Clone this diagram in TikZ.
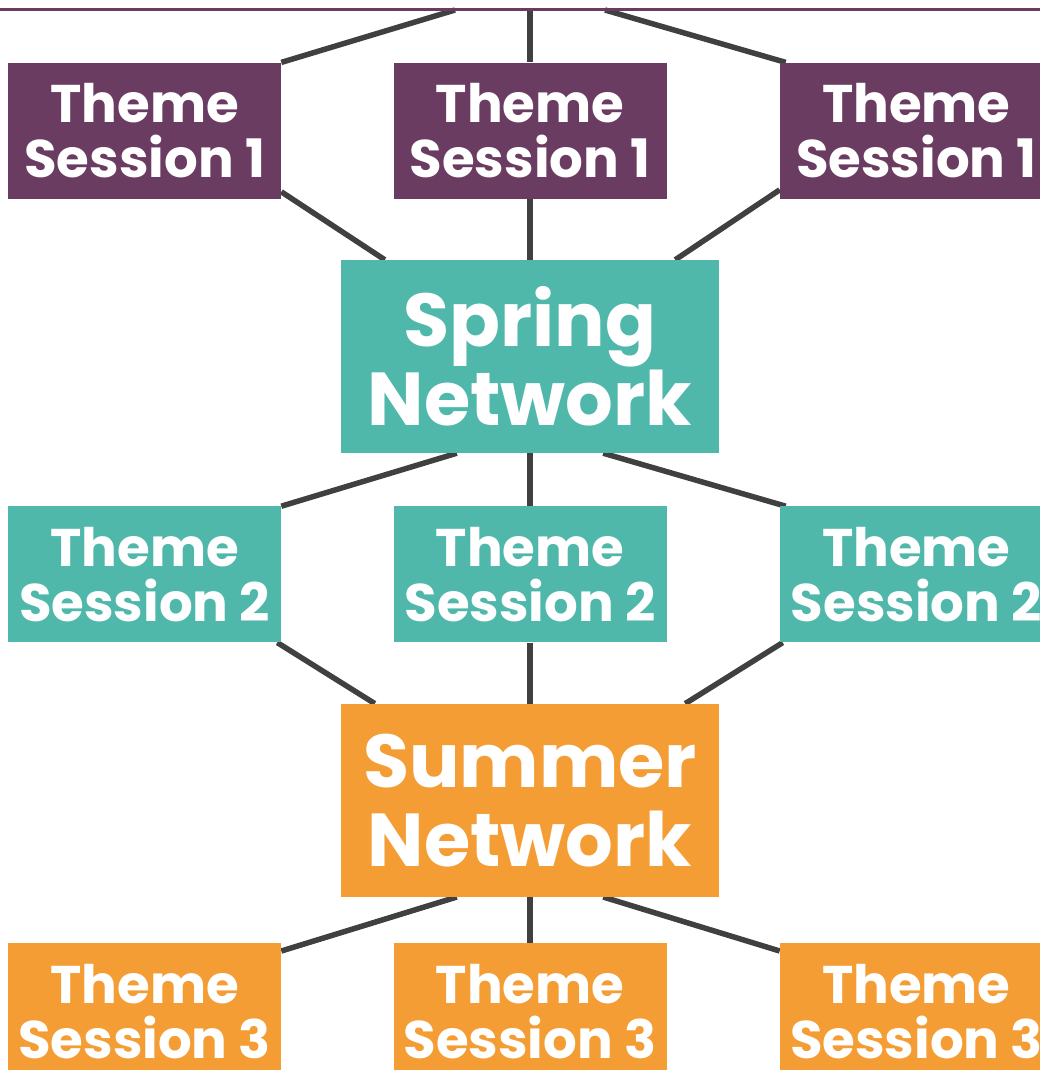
\documentclass[tikz,border=0pt]{standalone}
\usepackage{fontspec}
\setmainfont{Poppins}
\usetikzlibrary{positioning,backgrounds}
\definecolor{session1}{HTML}{6B3C62}
\definecolor{session2}{HTML}{4FB8AB}
\definecolor{session3}{HTML}{F49D35}
\definecolor{linkgray}{HTML}{404040}
\tikzstyle{theme_box}=[rectangle,
                       minimum width=273pt,
                       minimum height=136pt,
                       inner sep=0pt,
                       text=white,
                       align=center,
                       font=\bfseries\fontsize{53}{55}\selectfont]
\tikzstyle{network_box}=[rectangle,
                         minimum width=378pt,
                         minimum height=193pt,
                         inner sep=0pt,
                         text=white,
                         align=center,
                         font=\bfseries\fontsize{75}{79}\selectfont]
\tikzstyle{link_line}=[draw=linkgray, line width=5.5pt]

\begin{document}
\begin{tikzpicture}[x=1pt, y=-1pt]
    \useasboundingbox (0,0) rectangle (1040,1070);
    \clip (0,0) rectangle (1040,1070);

    \node at (530, 356.5) (Spring) [network_box, fill=session2] {Spring\\Network};
    \node (T1b) [theme_box, fill=session1, above=61pt of Spring] {Theme\\Session 1};
    \node (T2b) [theme_box, fill=session2, below=53pt of Spring] {Theme\\Session 2};
    \node (Summer) [network_box, fill=session3, below=61pt of T2b] {Summer\\Network};
    \node (T3b) [theme_box, fill=session3, below=46pt of Summer] {Theme\\Session 3};

    \foreach \r in {1,2,3} {
        \node (T\r a) [theme_box, fill=session\r, left=112pt of T\r b] {Theme\\Session \r};
        \node (T\r c) [theme_box, fill=session\r, right=113pt of T\r b] {Theme\\Session \r};
    }

    \coordinate (Top) at (530, 10);
    \draw[session1, line width=2.5pt] (0, 9.5) -- (1040, 9.5);

    \begin{pgfonlayer}{background}
        \draw[link_line] ([xshift=-75pt]Top) -- (T1a.north east);
        \draw[link_line] (Top) -- (T1b.north);
        \draw[link_line] ([xshift=75pt]Top) -- ([xshift=6pt]T1c.north west);

        \draw[link_line] ([yshift=7pt]T1a.south east) -- ([xshift=44pt]Spring.north west);
        \draw[link_line] (T1b.south) -- (Spring.north);
        \draw[link_line] ([yshift=9pt]T1c.south west) -- ([xshift=-44pt]Spring.north east);

        \draw[link_line] ([xshift=116pt]Spring.south west) -- (T2a.north east);
        \draw[link_line] (Spring.south) -- (T2b.north);
        \draw[link_line] ([xshift=-116pt]Spring.south east) -- ([xshift=6pt]T2c.north west);

        \draw[link_line] ([xshift=-4pt]T2a.south east) -- ([xshift=34pt]Summer.north west);
        \draw[link_line] (T2b.south) -- (Summer.north);
        \draw[link_line] ([xshift=3pt]T2c.south west) -- ([xshift=-34pt]Summer.north east);

        \draw[link_line] ([xshift=116pt]Summer.south west) -- ([yshift=-8pt]T3a.north east);
        \draw[link_line] (Summer.south) -- (T3b.north);
        \draw[link_line] ([xshift=-116pt]Summer.south east) -- ([yshift=-8pt]T3c.north west);
    \end{pgfonlayer}
\end{tikzpicture}
\end{document}
